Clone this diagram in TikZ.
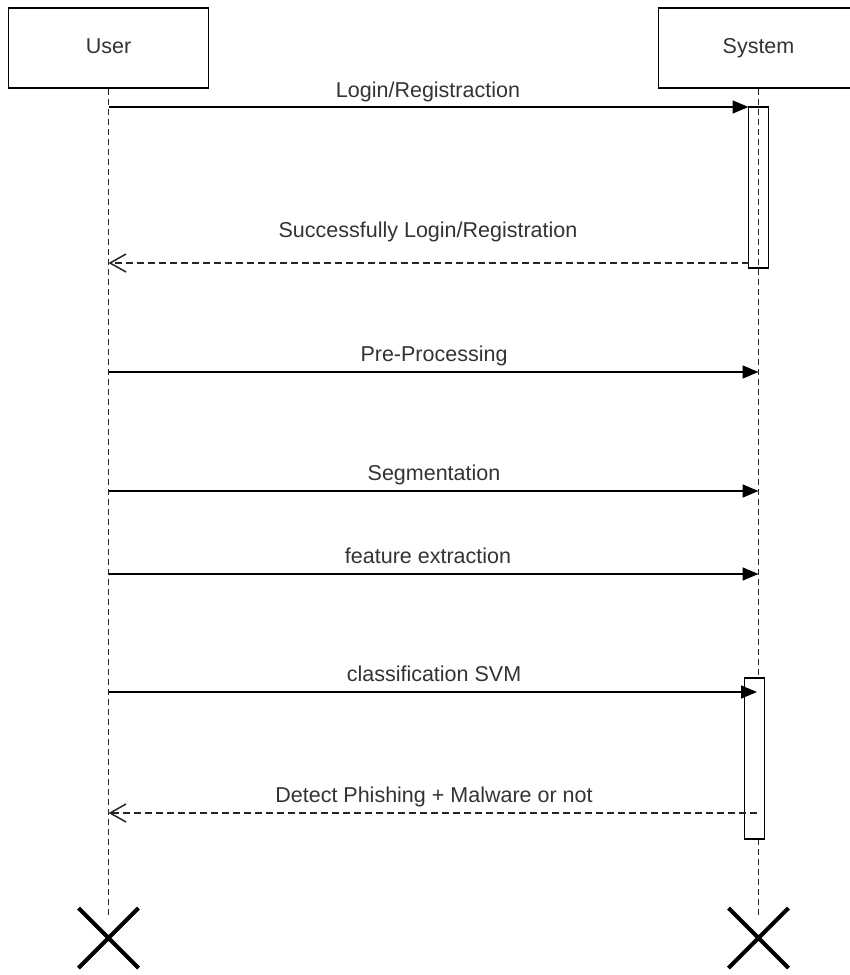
\documentclass[tikz,border=0pt]{standalone}
\usepackage{fontspec}
\setmainfont{Liberation Sans}
\usetikzlibrary{arrows.meta}
\definecolor{txt}{HTML}{333333}
\tikzset{
  x=1pt, y=-1pt,
  actor/.style={draw=black, line width=1.6pt, minimum width=200pt, minimum height=80pt, inner sep=0pt, text=txt, text height=15.5pt, text depth=4.5pt, font=\fontsize{21.5}{26}\selectfont},
  actbox/.style={draw=black, line width=1.5pt, minimum width=20pt, inner sep=0pt},
  lifeline/.style={draw=black!85, line width=1.6pt, dash pattern=on 6pt off 4pt},
  msg/.style={draw=black, line width=1.6pt, -{Triangle[length=16pt,width=13pt]}},
  ret/.style={draw=black!85, line width=1.5pt, dash pattern=on 7pt off 4pt, -{Straight Barb[length=16pt,width=18pt,line width=1.5pt]}},
  lbl/.style={text=txt, font=\fontsize{21.5}{26}\selectfont, anchor=base, inner sep=0pt},
  xmark/.style={draw=black, line width=4pt}
}
\begin{document}
\begin{tikzpicture}
\useasboundingbox (0,0) rectangle (850,975);
% actors
\node[actor] (user) at (108.5,48) {User};
\node[actor] (sys) at (758.5,48) {System};
% lifeline ends
\coordinate (uend) at (108.5,918);
\coordinate (send) at (758.5,918);
\draw[lifeline] (user.south) -- (uend);
% activation 1 (unfilled, lifeline visible)
\node[actbox, minimum height=161pt] (act1) at (758.5,187.5) {};
\draw[lifeline] (sys.south) -- (send);
% activation 2 (filled)
\node[actbox, fill=white, minimum height=161pt] (act2) at (754.5,758.5) {};
% coordinates on lifelines
\coordinate (u1) at (108.5,107);
\coordinate (u2) at (108.5,263);
\coordinate (u3) at (108.5,372);
\coordinate (u4) at (108.5,491);
\coordinate (u5) at (108.5,574);
\coordinate (u6) at (108.5,692);
\coordinate (u7) at (108.5,813);
\coordinate (s1) at (748.5,107);
\coordinate (s2) at (748.5,263);
\coordinate (s3) at (758.5,372);
\coordinate (s4) at (758.5,491);
\coordinate (s5) at (758.5,574);
\coordinate (s6) at (757,692);
\coordinate (s7) at (757,813);
% messages
\draw[msg] (u1) -- (s1);
\node[lbl] (l1) at (428,97) {Login/Registraction};
\draw[ret] (s2) -- (u2);
\node[lbl] (l2) at (428,237) {Successfully Login/Registration};
\draw[msg] (u3) -- (s3);
\node[lbl] (l3) at (434,361) {Pre-Processing};
\draw[msg] (u4) -- (s4);
\node[lbl] (l4) at (434,480) {Segmentation};
\draw[msg] (u5) -- (s5);
\node[lbl] (l5) at (428,563) {feature extraction};
\draw[msg] (u6) -- (s6);
\node[lbl] (l6) at (434,681) {classification SVM};
\draw[ret] (s7) -- (u7);
\node[lbl] (l7) at (434,802) {Detect Phishing + Malware or not};
% destruction marks
\draw[xmark] (78.5,908) -- (138.5,968) (78.5,968) -- (138.5,908);
\draw[xmark] (728.5,908) -- (788.5,968) (728.5,968) -- (788.5,908);
\end{tikzpicture}
\end{document}
